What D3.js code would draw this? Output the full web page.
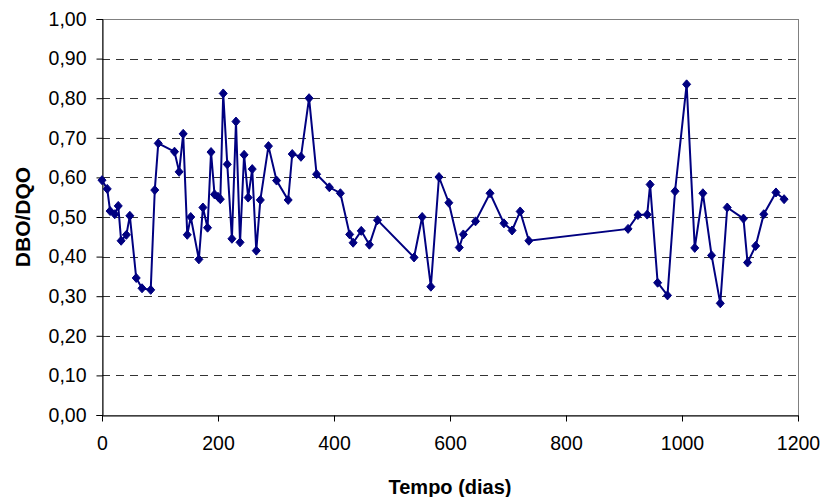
<!DOCTYPE html>
<html>
<head>
<meta charset="utf-8">
<script src="https://cdn.jsdelivr.net/npm/d3@7"></script>
<style>
  body { margin: 0; background: #fff; }
  svg text { font-family: "Liberation Sans", Arial, sans-serif; }
</style>
</head>
<body>
<div id="chart"></div>
<script>
// time in days
const days = [0, 9, 14, 22, 28, 33, 42, 48, 59, 69, 84, 91, 97, 125, 133, 140, 147, 153, 167, 174,
  182, 188, 194, 200, 204, 209, 216, 224, 231, 238, 245, 252, 259, 266, 273, 287, 301, 321, 328, 343,
  357, 370, 392, 411, 427, 433, 447, 461, 475, 538, 552, 567, 581, 598, 616, 623, 644, 669, 693, 707,
  721, 736, 907, 924, 940, 945, 958, 975, 988, 1008, 1022, 1036, 1051, 1066, 1078, 1106, 1113, 1127, 1141, 1162,
  1176];
// DBO/DQO ratio
const ratio = [0.593, 0.571, 0.515, 0.507, 0.528, 0.440, 0.455, 0.503, 0.346, 0.320, 0.316, 0.568, 0.686, 0.665, 0.614, 0.710, 0.455, 0.500, 0.393, 0.524,
  0.473, 0.664, 0.557, 0.551, 0.545, 0.812, 0.633, 0.445, 0.741, 0.436, 0.657, 0.549, 0.621, 0.415, 0.543, 0.679, 0.592, 0.543, 0.659, 0.652,
  0.800, 0.608, 0.575, 0.560, 0.456, 0.435, 0.465, 0.430, 0.492, 0.398, 0.500, 0.324, 0.601, 0.536, 0.423, 0.456, 0.489, 0.560, 0.484, 0.466,
  0.514, 0.440, 0.470, 0.505, 0.506, 0.582, 0.334, 0.302, 0.565, 0.835, 0.422, 0.560, 0.403, 0.282, 0.524, 0.496, 0.385, 0.427, 0.507, 0.562,
  0.545];

const xTicks = [0, 200, 400, 600, 800, 1000, 1200];
const yTicks = [0, 0.1, 0.2, 0.3, 0.4, 0.5, 0.6, 0.7, 0.8, 0.9, 1.0];

const data = days.map((d, i) => ({ day: d, value: ratio[i] }));

const width = 823;
const height = 497;
const margin = { top: 19, right: 25, bottom: 82, left: 102 };
const w = width - margin.left - margin.right;
const h = height - margin.top - margin.bottom;

const svg = d3.select('#chart').append('svg')
  .attr('width', width)
  .attr('height', height)
  .append('g')
  .attr('transform', `translate(${margin.left},${margin.top})`);

const x = d3.scaleLinear().domain([0, 1200]).range([0, w]);
const y = d3.scaleLinear().domain([0, 1]).range([h, 0]);

// plot frame
svg.append('rect')
  .attr('x', 0.5).attr('y', 0.5)
  .attr('width', w).attr('height', h)
  .attr('fill', 'none')
  .attr('stroke', '#808080')
  .attr('stroke-width', 1);

// dashed gridlines
svg.append('g')
  .selectAll('line')
  .data(yTicks.filter(t => t > 0 && t < 1))
  .enter().append('line')
  .attr('x1', 0)
  .attr('x2', w)
  .attr('y1', d => Math.round(y(d)) + 0.5)
  .attr('y2', d => Math.round(y(d)) + 0.5)
  .attr('stroke', '#333')
  .attr('stroke-width', 1)
  .attr('stroke-dasharray', '8,6');

const fmt = d => d3.format('.2f')(d).replace('.', ',');

svg.append('g')
  .attr('class', 'y axis')
  .attr('transform', 'translate(0.5,0)')
  .call(d3.axisLeft(y).tickValues(yTicks).tickFormat(fmt).tickSize(6).tickPadding(10))
  .call(g => g.select('.domain').attr('stroke', '#000'))
  .selectAll('.tick text')
  .style('font-size', '19.5px')
  .attr('fill', '#000');

svg.append('g')
  .attr('class', 'x axis')
  .attr('transform', `translate(0,${h + 0.5})`)
  .call(d3.axisBottom(x).tickValues(xTicks).tickFormat(d3.format('d')).tickSize(6).tickSizeOuter(0).tickPadding(15))
  .call(g => g.select('.domain').attr('stroke', '#000'))
  .selectAll('.tick text')
  .style('font-size', '19.5px')
  .attr('fill', '#000');

// series line
const line = d3.line()
  .x(d => x(d.day))
  .y(d => y(d.value));

svg.append('path')
  .datum(data)
  .attr('fill', 'none')
  .attr('stroke', '#000080')
  .attr('stroke-width', 2)
  .attr('d', line);

// diamond markers
const diamond = (cx, cy) => `M${cx},${cy - 4.5}L${cx + 4},${cy}L${cx},${cy + 4.5}L${cx - 4},${cy}Z`;

svg.append('g')
  .selectAll('path')
  .data(data)
  .enter().append('path')
  .attr('d', d => diamond(x(d.day), y(d.value)))
  .attr('fill', '#000080')
  .attr('stroke', '#000080')
  .attr('stroke-width', 1);

svg.append('text')
  .attr('x', w / 2)
  .attr('y', h + 79)
  .attr('text-anchor', 'middle')
  .style('font-size', '20px')
  .style('font-weight', 'bold')
  .text('Tempo (dias)');

svg.append('text')
  .attr('transform', 'rotate(-90)')
  .attr('x', -h / 2)
  .attr('y', -margin.left + 30)
  .attr('text-anchor', 'middle')
  .style('font-size', '21px')
  .style('font-weight', 'bold')
  .text('DBO/DQO');
</script>
</body>
</html>
